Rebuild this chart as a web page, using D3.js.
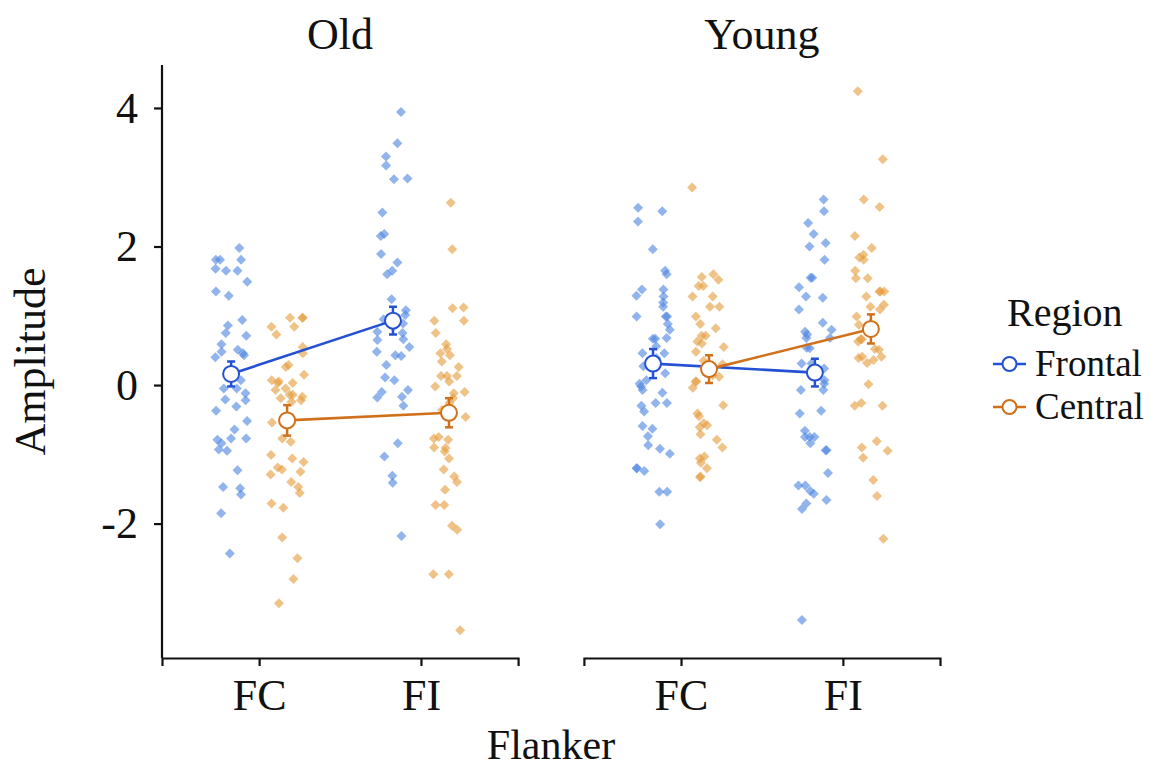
<!DOCTYPE html>
<html>
<head>
<meta charset="utf-8">
<script src="https://cdn.jsdelivr.net/npm/d3@7"></script>
<style>
  body { margin: 0; background: #fff; }
  text { font-family: "Liberation Serif", "Times New Roman", serif; fill: #111; }
</style>
</head>
<body>
<script>
// values
const groups = ['Old', 'Young']
const flankers = ['FC', 'FI']
const regions = ['Frontal', 'Central']
const yTicks = [-2, 0, 2, 4]

const oldFcFrontal = [1.98, 1.81, 1.81, 1.81, 1.68, 1.65, 1.65, 1.49, 1.35, 1.29, 0.94, 0.86, 0.75, 0.71, 0.59, 0.51, 0.48, 0.46, 0.43, 0.40, 0.07, -0.05, -0.05, -0.12, -0.22, -0.21, -0.31, -0.37, -0.52, -0.64, -0.77, -0.77, -0.79, -0.84, -0.93, -0.95, -1.23, -1.47, -1.49, -1.58, -1.85, -2.43]
const oldFcCentral = [0.97, 0.97, 0.97, 0.84, 0.84, 0.73, 0.55, 0.46, 0.29, 0.26, 0.15, 0.07, 0.05, 0.03, 0.03, -0.05, -0.07, -0.14, -0.14, -0.17, -0.19, -0.22, -0.24, -0.54, -0.77, -0.82, -1.01, -1.06, -1.11, -1.19, -1.22, -1.25, -1.29, -1.40, -1.47, -1.56, -1.71, -1.77, -2.20, -2.50, -2.80, -3.15]
const oldFiFrontal = [3.94, 3.49, 3.30, 3.17, 2.98, 2.97, 2.49, 2.18, 2.15, 1.89, 1.77, 1.65, 1.60, 1.24, 1.08, 1.01, 0.95, 0.89, 0.84, 0.77, 0.75, 0.66, 0.65, 0.55, 0.48, 0.43, 0.42, 0.29, 0.11, 0.07, -0.07, -0.10, -0.17, -0.18, -0.30, -0.84, -1.03, -1.31, -1.41, -2.18]
const oldFiCentral = [2.63, 1.96, 1.12, 1.11, 0.93, 0.93, 0.75, 0.59, 0.52, 0.46, 0.43, 0.34, 0.26, 0.13, 0.13, 0.13, 0.05, -0.02, -0.10, -0.12, -0.19, -0.26, -0.36, -0.46, -0.75, -0.77, -0.79, -0.90, -0.91, -0.96, -1.06, -1.22, -1.32, -1.40, -1.51, -1.73, -1.73, -2.03, -2.09, -2.73, -2.73, -3.54]
const youngFcFrontal = [2.56, 2.51, 2.36, 1.96, 1.65, 1.60, 1.38, 1.38, 1.29, 1.28, 1.19, 1.13, 0.99, 0.99, 0.99, 0.88, 0.80, 0.68, 0.67, 0.67, 0.56, 0.46, 0.46, 0.39, 0.27, 0.17, 0.07, 0.02, -0.02, -0.07, -0.11, -0.26, -0.26, -0.30, -0.38, -0.59, -0.63, -0.74, -0.87, -0.92, -0.99, -1.20, -1.20, -1.24, -1.54, -1.54, -2.01]
const youngFcCentral = [2.85, 1.60, 1.56, 1.52, 1.43, 1.43, 1.28, 1.28, 1.13, 1.13, 0.99, 0.88, 0.82, 0.71, 0.71, 0.63, 0.60, 0.55, 0.48, 0.35, 0.30, 0.14, 0.12, 0.05, 0.05, -0.04, -0.29, -0.41, -0.45, -0.55, -0.58, -0.61, -0.71, -0.79, -0.90, -1.03, -1.06, -1.12, -1.20, -1.33, -1.32]
const youngFiFrontal = [2.68, 2.51, 2.34, 2.18, 2.05, 2.00, 1.81, 1.55, 1.55, 1.41, 1.28, 1.26, 1.09, 0.90, 0.80, 0.77, 0.73, 0.68, 0.68, 0.54, 0.53, 0.31, 0.31, 0.24, 0.07, 0.02, -0.07, -0.07, -0.37, -0.41, -0.66, -0.75, -0.75, -0.75, -0.84, -0.94, -0.94, -1.27, -1.45, -1.45, -1.53, -1.57, -1.66, -1.71, -1.79, -3.39]
const youngFiCentral = [4.24, 3.26, 2.68, 2.57, 2.15, 1.98, 1.88, 1.84, 1.81, 1.65, 1.54, 1.54, 1.35, 1.35, 1.35, 1.28, 1.16, 1.13, 1.09, 0.99, 0.87, 0.77, 0.66, 0.66, 0.63, 0.52, 0.51, 0.41, 0.41, 0.39, 0.36, 0.32, 0.01, -0.26, -0.30, -0.30, -0.81, -0.90, -0.95, -1.05, -1.37, -1.60, -2.22]

// summary (mean, standard error) per group, flanker FC/FI
const oldFrontalMean = [0.16, 0.93]
const oldFrontalSe = [0.18, 0.20]
const oldCentralMean = [-0.51, -0.40]
const oldCentralSe = [0.22, 0.21]
const youngFrontalMean = [0.31, 0.18]
const youngFrontalSe = [0.21, 0.20]
const youngCentralMean = [0.23, 0.81]
const youngCentralSe = [0.20, 0.21]

const raw = {
  Old: { Frontal: [oldFcFrontal, oldFiFrontal], Central: [oldFcCentral, oldFiCentral] },
  Young: { Frontal: [youngFcFrontal, youngFiFrontal], Central: [youngFcCentral, youngFiCentral] }
}
const summary = {
  Old: { Frontal: [oldFrontalMean, oldFrontalSe], Central: [oldCentralMean, oldCentralSe] },
  Young: { Frontal: [youngFrontalMean, youngFrontalSe], Central: [youngCentralMean, youngCentralSe] }
}

const pointColor = { Frontal: '#4f86e0', Central: '#e59d3e' }
const lineColor = { Frontal: '#2450d4', Central: '#d0701a' }

const width = 1174, height = 771
const yTop = 65, yBottom = 658
const dodge = 28, jitterW = 17
const fontSize = 44

const svg = d3.select('body').append('svg').attr('width', width).attr('height', height)

const y = d3.scaleLinear().domain([-3.94, 4.62]).range([yBottom, yTop])
const facet = d3.scaleBand().domain(groups).range([162, 940]).paddingInner(0.156)
const x = d3.scalePoint().domain(flankers).range([0, facet.bandwidth()]).padding(0.6)

const rand = d3.randomUniform.source(d3.randomLcg(0.4242))(-1, 1)
const diamond = d3.symbol(d3.symbolSquare, 50)

groups.forEach(function(g) {
  const panel = svg.append('g').attr('transform', 'translate(' + facet(g) + ',0)')
  const off = { Frontal: -dodge, Central: dodge }

  // raw points
  regions.forEach(function(r) {
    flankers.forEach(function(f, i) {
      panel.append('g').selectAll('path')
        .data(raw[g][r][i])
        .join('path')
        .attr('d', diamond)
        .attr('transform', d => 'translate(' + (x(f) + off[r] + rand() * jitterW) + ',' + y(d) + ') rotate(45)')
        .attr('fill', pointColor[r])
        .attr('fill-opacity', 0.62)
    })
  })

  // means, lines, error bars
  regions.forEach(function(r) {
    const m = summary[g][r][0], se = summary[g][r][1]
    const pts = flankers.map((f, i) => ({ x: x(f) + off[r], m: m[i], se: se[i] }))
    panel.append('path')
      .datum(pts)
      .attr('d', d3.line().x(d => d.x).y(d => y(d.m)))
      .attr('fill', 'none')
      .attr('stroke', lineColor[r])
      .attr('stroke-width', 2.6)
    const eb = panel.append('g').selectAll('g').data(pts).join('g')
      .attr('stroke', lineColor[r]).attr('stroke-width', 2.5)
    eb.append('line').attr('x1', d => d.x).attr('x2', d => d.x)
      .attr('y1', d => y(d.m - d.se)).attr('y2', d => y(d.m + d.se))
    eb.append('line').attr('x1', d => d.x - 4).attr('x2', d => d.x + 4)
      .attr('y1', d => y(d.m - d.se)).attr('y2', d => y(d.m - d.se))
    eb.append('line').attr('x1', d => d.x - 4).attr('x2', d => d.x + 4)
      .attr('y1', d => y(d.m + d.se)).attr('y2', d => y(d.m + d.se))
    panel.append('g').selectAll('circle').data(pts).join('circle')
      .attr('cx', d => d.x).attr('cy', d => y(d.m)).attr('r', 8)
      .attr('fill', '#fff').attr('stroke', lineColor[r]).attr('stroke-width', 2)
  })

  // x axis
  const xa = panel.append('g').attr('transform', 'translate(0,' + yBottom + ')')
    .call(d3.axisBottom(x).tickSize(8).tickPadding(13))
  xa.select('.domain').attr('stroke', '#111').attr('stroke-width', 2.2)
  xa.selectAll('.tick line').attr('stroke', '#111').attr('stroke-width', 2.2)
  xa.selectAll('text').attr('font-size', fontSize).attr('font-family', '"Liberation Serif", serif').attr('fill', '#111')

  panel.append('text')
    .attr('x', facet.bandwidth() / 2).attr('y', 49)
    .attr('text-anchor', 'middle').attr('font-size', fontSize)
    .text(g)
})

// y axis on first panel
const ya = svg.append('g').attr('transform', 'translate(162,0)')
  .call(d3.axisLeft(y).tickValues(yTicks).tickFormat(d => String(d)).tickSize(8).tickPadding(16))
ya.select('.domain').attr('d', 'M0,' + yTop + 'V' + yBottom).attr('stroke', '#111').attr('stroke-width', 2.2)
ya.selectAll('.tick line').attr('stroke', '#111').attr('stroke-width', 2.2)
ya.selectAll('text').attr('font-size', fontSize).attr('font-family', '"Liberation Serif", serif').attr('fill', '#111')

svg.append('text')
  .attr('transform', 'translate(45,' + ((yTop + yBottom) / 2) + ') rotate(-90)')
  .attr('text-anchor', 'middle').attr('font-size', fontSize)
  .text('Amplitude')

svg.append('text')
  .attr('x', (162 + 940) / 2).attr('y', 759)
  .attr('text-anchor', 'middle').attr('font-size', 42)
  .text('Flanker')

// legend
const legend = svg.append('g').attr('transform', 'translate(993,0)')
legend.append('text').attr('x', 14).attr('y', 326).attr('font-size', 40).text('Region')
regions.forEach(function(r, i) {
  const cy = 364 + i * 43
  legend.append('line').attr('x1', 0).attr('x2', 33).attr('y1', cy).attr('y2', cy)
    .attr('stroke', lineColor[r]).attr('stroke-width', 2.5)
  legend.append('circle').attr('cx', 16.5).attr('cy', cy).attr('r', 7)
    .attr('fill', '#fff').attr('stroke', lineColor[r]).attr('stroke-width', 2)
  legend.append('text').attr('x', 42).attr('y', cy + 12).attr('font-size', 37).text(r)
})
</script>
</body>
</html>
